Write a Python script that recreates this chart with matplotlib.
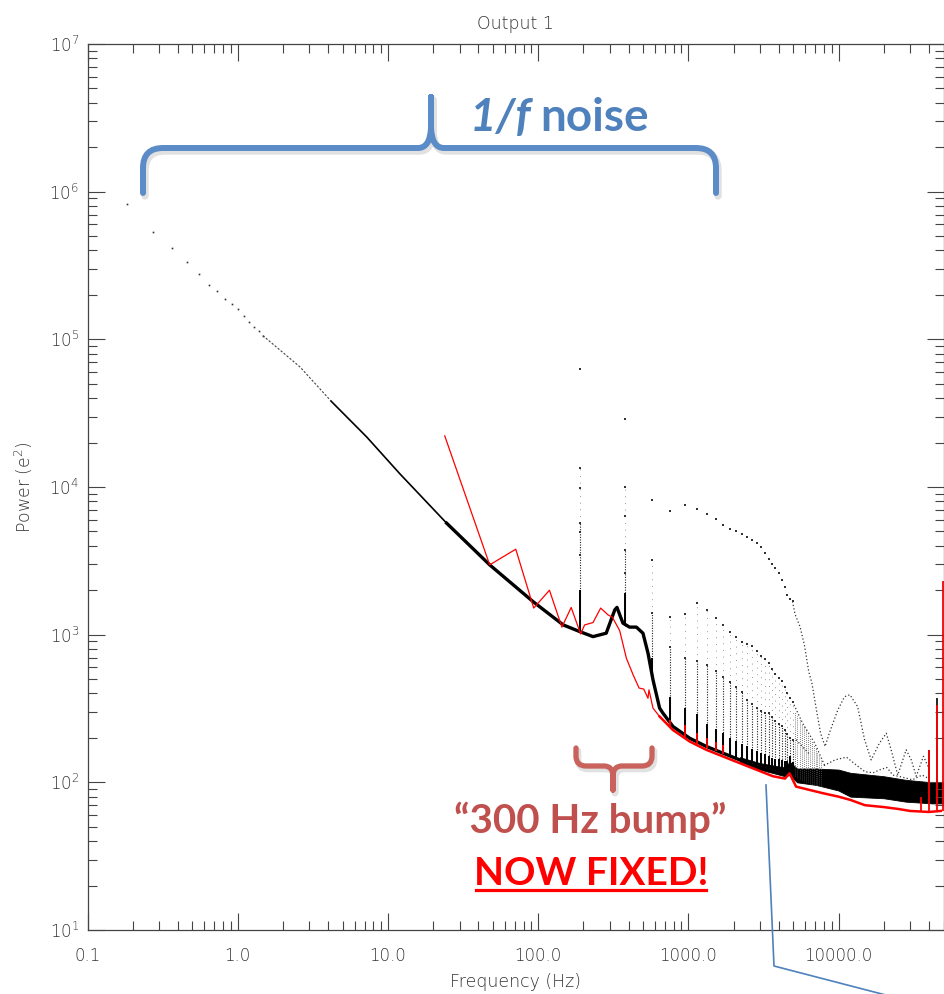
import matplotlib
matplotlib.use('Agg')
import matplotlib.pyplot as plt
from matplotlib.path import Path
from matplotlib.patches import PathPatch
from matplotlib.ticker import LogLocator, NullFormatter

# --- spectrum data (Hz, e^2) ---
# sparse low-frequency bins
lf_freq = [0.183, 0.275, 0.367, 0.458, 0.550, 0.642, 0.733, 0.825, 0.917,
           1.01, 1.10, 1.19, 1.28, 1.38, 1.47]
lf_power = [8.2e5, 5.3e5, 4.14e5, 3.34e5, 2.77e5, 2.35e5, 2.14e5, 1.89e5,
            1.74e5, 1.61e5, 1.43e5, 1.31e5, 1.21e5, 1.13e5, 1.06e5]

# dense part of the black spectrum
main_freq = [1.47, 2.6, 4.2, 7.2, 12, 24.6, 47.6, 92.5, 147, 189, 232, 284,
             324, 335, 367, 406, 451, 499, 539, 582, 644, 678, 790, 1021,
             1318, 2195, 3000]
main_power = [1.06e5, 6.5e4, 3.8e4, 2.19e4, 1.23e4, 5690, 2970, 1675, 1164,
              1050, 970, 1023, 1472, 1530, 1197, 1125, 1125, 1023, 750, 494,
              318, 294, 239, 199, 175, 142, 129]

# high-frequency noise floor (black band)
band_freq = [2200, 3000, 4400, 4720, 5300, 7100, 10000, 12000, 20000, 28000,
             42000, 50000]
band_top = [148, 135, 126, 138, 124, 124, 122, 116, 110, 104, 100, 100]
band_bot = [138, 122, 110, 112, 100, 96, 88, 80, 78, 74, 72, 72]

# harmonics of the 190 Hz line
harm_freq = [190, 380, 570, 760, 950, 1140, 1330, 1520, 1710, 1900, 2090,
             2280, 2470, 2660, 2850, 3040, 3230, 3420, 3610, 3800, 3990,
             4180, 4370, 4560, 4750, 4940]
harm_top = [6.3e4, 2.9e4, 8200, 6900, 7600, 7100, 6550, 6100, 5500, 5200,
            5050, 4800, 4570, 4350, 4150, 3900, 3600, 3250, 3000, 2820, 2600,
            2350, 2100, 1860, 1750, 1680]
harm_mid = [1.35e4, 1.0e4, 3200, 1313, 1376, 1634, 1470, 1300, 1170, 1050,
            970, 898, 870, 839, 780, 720, 680, 641, 590, 540, 505, 482, 440,
            400, 375, 352]
harm_low = [5700, 3750, 1400, 820, 700, 660, 622, 570, 520, 480, 445, 410,
            361, 340, 320, 305, 294, 294, 275, 262, 250, 239, 225, 212, 200,
            194]
harm_solid = [2010, 1920, 700, 380, 320, 290, 250, 230, 215, 200, 190, 182,
              175, 168, 162, 158, 155, 150, 147, 145, 143, 141, 140, 139,
              150, 138]
harm_base = [1050, 1150, 520, 250, 205, 190, 175, 166, 158, 152, 146, 142,
             138, 135, 132, 129, 127, 125, 123, 121, 120, 118, 117, 115, 114,
             112]

# extra points in the two strongest columns
col_freq = [190, 190, 190, 190, 380, 380, 380]
col_power = [9.8e3, 5.7e3, 4970, 3470, 6370, 3750, 2620]

# dense harmonic columns above the floor
hatch_freq = [5130, 5320, 5510, 5700, 5890, 6080, 6270, 6460, 6650, 6840,
              7030, 7220, 7410, 7600]
hatch_top = [300, 280, 270, 250, 240, 230, 210, 200, 190, 180, 170, 160,
             150, 145]
hatch_base = [110, 108, 106, 104, 102, 101, 100, 99, 98, 97, 96, 96, 95, 95]

# continuation of the harmonic envelopes
capA_freq = [4940, 5130, 5540, 5930, 6340, 6650, 7130, 7600, 8140, 8680,
             9890, 10960, 11900, 13400, 14900, 16500, 18700, 20800, 22400,
             24800, 28200, 30500, 32900, 36800, 40300]
capA_power = [1680, 1380, 1135, 851, 560, 470, 309, 215, 175, 215, 309, 380,
              392, 326, 195, 142, 184, 215, 166, 112, 166, 142, 110, 150, 122]
capB_freq = [4940, 5770, 6950, 8140]
capB_power = [352, 251, 184, 128]
capC_freq = [4940, 5220, 6340]
capC_power = [194, 194, 157]
capD_freq = [8000, 9500, 11300, 13000, 15000, 17000, 19000, 21000, 23000,
             27000, 31000, 36000, 40000]
capD_power = [130, 142, 148, 132, 118, 116, 122, 126, 112, 108, 104, 112, 106]

# high-end spikes
hi_spike_freq = [39800, 45100]
hi_spike_top = [166, 373]
hi_spike_base = [90, 90]

# red spectrum
red_freq = [23.9, 47.6, 71, 93.5, 119, 144, 166, 192, 204, 232, 261, 292,
            312, 349, 387, 429, 470, 505, 539, 547, 582, 644, 790, 1021, 1318,
            2195, 3656, 4400, 4720, 5220, 7800, 10000, 12000, 15000, 20000,
            25000, 30000, 40000, 48000]
red_power = [22200, 2970, 3790, 1514, 2000, 1125, 1528, 1011, 1164, 1208,
             1514, 1362, 1313, 1067, 692, 535, 435, 428, 371, 423, 318, 279,
             226, 189, 166, 135, 110, 106, 115, 93.5, 84.6, 80, 76, 70, 68,
             66, 64, 63, 64]
red_spike_freq = [760, 950, 1140, 1330, 1520, 1710, 35500, 39800, 45100, 49600]
red_spike_top = [265, 243, 215, 200, 188, 180, 80, 166, 335, 2300]
red_spike_base = [232, 200, 182, 172, 163, 156, 64, 63, 63, 64]

x_ticks = [0.1, 1, 10, 100, 1000, 10000]
x_labels = ['0.1', '1.0', '10.0', '100.0', '1000.0', '10000.0']
y_ticks = [10, 100, 1e3, 1e4, 1e5, 1e6, 1e7]
y_labels = [r'$\mathregular{10^{%d}}$' % k for k in range(1, 8)]

W, H = 944, 994
fig = plt.figure(figsize=(W / 100, H / 100), dpi=100)
ax = fig.add_axes([87.5 / W, 1 - 930 / H, (943.5 - 87.5) / W, (930 - 44) / H])
ax.set_xscale('log')
ax.set_yscale('log')
ax.set_xlim(0.1, 5e4)
ax.set_ylim(10, 1e7)

axis_font = dict(family='DejaVu Sans', weight='light', color='#333333')

# black spectrum
ax.plot(lf_freq, lf_power, ls='none', marker='s', ms=1.2, mew=0, color='#333333')
ax.plot(main_freq[:3], main_power[:3], color='#444444', lw=0.8, ls=(0, (2, 1.5)))
ax.plot(main_freq[2:6], main_power[2:6], color='black', lw=1.2)
ax.plot(main_freq[5:], main_power[5:], color='black', lw=2.4,
        solid_joinstyle='round')
ax.fill_between(band_freq, band_bot, band_top, color='black', lw=0.6,
                edgecolor='black')

# harmonic columns: dense dots near the floor, sparse higher up
ax.vlines(harm_freq, harm_base, harm_low, colors='#222222', lw=0.8,
          linestyles=(0, (1, 1.3)))
ax.vlines(harm_freq, harm_low, harm_mid, colors='#777777', lw=0.6,
          linestyles=(0, (1, 7)))
ax.vlines(harm_freq, harm_base, harm_solid, colors='black', lw=1.4)
ax.vlines(hatch_freq, hatch_base, hatch_top, colors='#555555', lw=0.6,
          linestyles=(0, (1, 1.5)))
ax.vlines(hi_spike_freq, hi_spike_base, hi_spike_top, colors='black', lw=1.2)
for vals in (harm_top, harm_mid, harm_low):
    ax.plot(harm_freq, vals, ls='none', marker='s', ms=1.5, mew=0,
            color='#333333')
ax.plot(col_freq, col_power, ls='none', marker='s', ms=1.5, mew=0,
        color='#333333')
for fx, py in ((capA_freq, capA_power), (capB_freq, capB_power),
               (capC_freq, capC_power), (capD_freq, capD_power)):
    ax.plot(fx, py, color='#333333', lw=0.9, ls=(0, (1, 1.8)))

# red spectrum
ax.plot(red_freq[:22], red_power[:22], color='red', lw=0.9)
ax.plot(red_freq[21:], red_power[21:], color='red', lw=1.8)
ax.vlines(red_spike_freq, red_spike_base, red_spike_top, colors='red', lw=1.3)

# axes styling
ax.set_xticks(x_ticks)
ax.set_xticklabels(x_labels, fontsize=12, **axis_font)
ax.set_yticks(y_ticks)
ax.set_yticklabels(y_labels, fontsize=12, **axis_font)
ax.xaxis.set_minor_locator(LogLocator(base=10, subs=range(2, 10), numticks=20))
ax.yaxis.set_minor_locator(LogLocator(base=10, subs=range(2, 10), numticks=20))
ax.xaxis.set_minor_formatter(NullFormatter())
ax.yaxis.set_minor_formatter(NullFormatter())
ax.tick_params(which='both', direction='in', top=True, right=True,
               color='#444444', width=0.8)
ax.tick_params(which='major', length=12.5)
ax.tick_params(which='minor', length=6.5)
ax.tick_params(axis='x', pad=12)
ax.tick_params(axis='y', pad=6)
for sp in ax.spines.values():
    sp.set_color('#444444')
    sp.set_linewidth(0.9)

ax.set_title('Output 1', fontsize=12.5, pad=11, **axis_font)
ax.set_xlabel('Frequency (Hz)', fontsize=12.5, labelpad=6, **axis_font)
ax.set_ylabel(r'Power (e$^{\mathregular{2}}$)', fontsize=12.5, labelpad=10,
              **axis_font)


# --- slide annotations, placed in pixel space ---
def fp(x, y):
    return (x / W, 1 - y / H)


def brace(points, codes, color, lw):
    verts = [fp(x, y) for x, y in points]
    shadow = [fp(x + 2, y + 3) for x, y in points]
    fig.add_artist(PathPatch(Path(shadow, codes), fill=False, lw=lw + 1,
                             edgecolor='#888888', alpha=0.25,
                             transform=fig.transFigure, capstyle='round'))
    fig.add_artist(PathPatch(Path(verts, codes), fill=False, lw=lw,
                             edgecolor=color, transform=fig.transFigure,
                             capstyle='round', joinstyle='round'))


M, L, Q = Path.MOVETO, Path.LINETO, Path.CURVE3
blue_pts = [(143, 193), (143, 168), (143, 148), (163, 148), (418, 148),
            (430, 148), (431, 128), (431, 97),
            (431, 97), (431, 128), (432, 148), (444, 148), (696, 148),
            (716, 148), (716, 168), (716, 193)]
brace_codes = [M, L, Q, Q, L, Q, Q, L, M, L, Q, Q, L, Q, Q, L]
brace(blue_pts, brace_codes, '#5B8CC8', 4.3)

red_pts = [(576, 748), (576, 756), (576, 766), (586, 766), (604, 766),
           (613, 766), (613, 776), (613, 790),
           (613, 790), (613, 776), (613, 766), (622, 766), (642, 766),
           (652, 766), (652, 756), (652, 748)]
brace(red_pts, brace_codes, '#C9625C', 3.8)

fig.text(*fp(531, 131), '1/f', fontsize=33, family='Lato', weight='bold',
         style='italic', color='#4F81BD', ha='right', va='baseline')
fig.text(*fp(540, 131), 'noise', fontsize=33, family='Lato', weight='bold',
         color='#4F81BD', ha='left', va='baseline')
fig.text(*fp(590, 833), '\u201c300 Hz bump\u201d', fontsize=29, family='Lato',
         weight='bold', color='#C0504D', ha='center', va='baseline')
fig.text(*fp(591, 885), 'NOW FIXED!', fontsize=28, family='Lato',
         weight='bold', color='#FF0000', ha='center', va='baseline')
fig.add_artist(plt.Line2D([476 / W, 706 / W], [1 - 890 / H, 1 - 890 / H],
                          color='#FF0000', lw=2.3, transform=fig.transFigure))

# callout line towards the lower right
cx = [766, 774, 905]
cy = [785, 966, 1000]
fig.add_artist(plt.Line2D([x / W for x in cx], [1 - y / H for y in cy],
                          color='#4F81BD', lw=1.2, transform=fig.transFigure))

fig.savefig('out.png', dpi=100)
